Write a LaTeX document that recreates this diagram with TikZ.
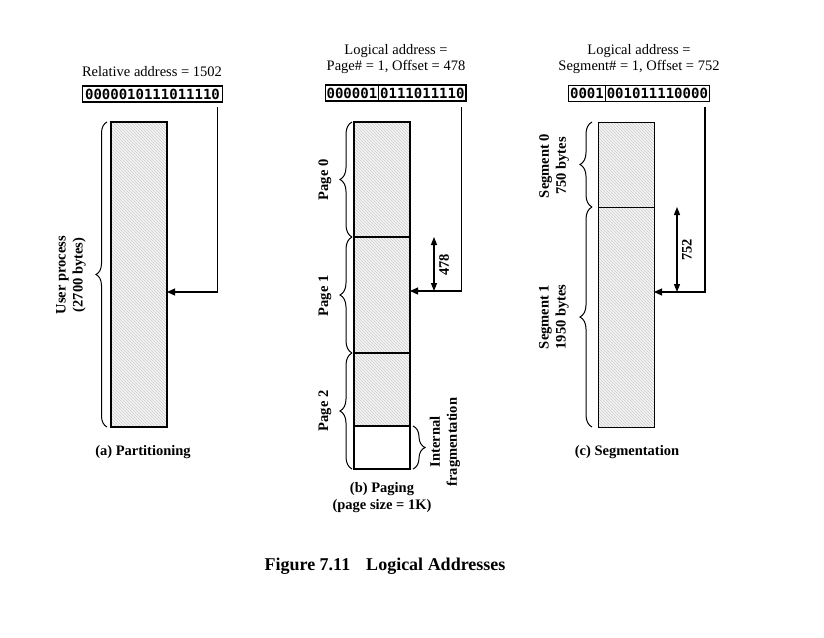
\documentclass[tikz,border=0pt]{standalone}
\usepackage{fontspec}
\setmainfont{Liberation Serif}
\newfontfamily\bitfont{DejaVu Sans Mono}
\usetikzlibrary{arrows.meta,patterns,decorations.pathreplacing}
\begin{document}
\begin{tikzpicture}[x=1pt,y=-1pt,
  font=\fontsize{14.5}{17}\selectfont,
  bits/.style={draw, line width=1.1pt, inner xsep=1.5pt, inner ysep=0pt, outer sep=0pt, minimum height=16pt,
    font=\bitfont\bfseries\fontsize{14}{16}\selectfont},
  blk/.style={draw, minimum width=56pt, anchor=north west, inner sep=0pt, outer sep=0pt},
  hatch/.style={blk, preaction={fill=gray!8}, pattern=north west lines, pattern color=gray!40},
  arr/.style={line width=1.1pt, -{Triangle[length=8pt,width=7pt]}},
  dim/.style={line width=1.1pt, {Triangle[length=8pt,width=6pt]}-{Triangle[length=8pt,width=6pt]}},
  brc/.style={decorate, decoration={brace, amplitude=11pt}, line width=1pt},
  lbl/.style={font=\fontsize{14.5}{17}\selectfont\bfseries, rotate=90, align=center},
  captxt/.style={font=\fontsize{14.5}{17}\selectfont\bfseries, align=center},
  ttl/.style={align=center, font=\fontsize{14.5}{16}\selectfont},
]
\useasboundingbox[fill=white] (0,0) rectangle (824,637);

% ---------- (a) Partitioning ----------
\node[ttl] (ta) at (152,72) {Relative address = 1502};
\node[bits, inner xsep=3pt] (ba) at (152.5,94) {0000010111011110};
\node[hatch, line width=1.2pt, minimum height=305pt] (proc) at (111,122) {};
\draw[brc] ([xshift=-4pt]proc.south west) -- ([xshift=-4pt]proc.north west);
\node[lbl] (lproc) at (71,275) {User process\\(2700 bytes)};
\coordinate (aT) at (217.5,107);
\coordinate (aH) at (217.5,292);
\draw[arr] (aT) -- (aH) -- (aH -| proc.east);
\node[captxt] (capa) at (143,452) {(a) Partitioning};

% ---------- (b) Paging ----------
\node[ttl] (tb) at (396,59) {Logical address =\\Page\# = 1, Offset = 478};
\node[bits, anchor=east] (bbl) at (378.7,93) {000001};
\node[bits, anchor=west] (bbr) at (bbl.east) {0111011110};
\node[hatch, line width=1.6pt, minimum height=115pt] (p0) at (354,122) {};
\node[hatch, line width=1.6pt, minimum height=116pt] (p1) at (354,237) {};
\node[hatch, line width=1.6pt, minimum height=73pt] (p2) at (354,353) {};
\node[blk, line width=1.6pt, minimum height=43pt] (frag) at (354,426) {};
\draw[brc, decoration={amplitude=12pt}] ([xshift=-2pt]p0.south west) -- ([xshift=-2pt]p0.north west);
\draw[brc, decoration={amplitude=12pt}] ([xshift=-2pt]p1.south west) -- ([xshift=-2pt]p1.north west);
\draw[brc, decoration={amplitude=12pt}] ([xshift=-2pt]frag.south west) -- ([xshift=-2pt]p2.north west);
\draw[brc, decoration={amplitude=12pt}] ([xshift=3pt]frag.north east) -- ([xshift=3pt]frag.south east);
\node[lbl] (lp0) at (325,180) {Page 0};
\node[lbl] (lp1) at (325,296) {Page 1};
\node[lbl] (lp2) at (325,411) {Page 2};
\node[lbl] (lfrag) at (445,442) {Internal\\fragmentation};
\coordinate (bT) at (461.5,107);
\coordinate (bH) at (461.5,291);
\draw[arr] (bT) -- (bH) -- (bH -| p1.east);
\coordinate (bD) at (434,291);
\draw[dim] (bD |- p1.north) -- (bD);
\node[lbl] (l478) at (444,265) {478};
\node[captxt] (capb) at (382,498) {(b) Paging\\(page size = 1K)};

% ---------- (c) Segmentation ----------
\node[ttl] (tc) at (639,59) {Logical address =\\Segment\# = 1, Offset = 752};
\node[bits, anchor=east] (bcl) at (605.3,93.5) {0001};
\node[bits, anchor=west] (bcr) at (bcl.east) {001011110000};
\node[hatch, line width=0.9pt, minimum height=85pt] (s0) at (598,122) {};
\node[hatch, line width=0.9pt, minimum height=220pt] (s1) at (598,207) {};
\draw[brc, decoration={amplitude=12pt}] ([xshift=-6pt]s0.south west) -- ([xshift=-6pt]s0.north west);
\draw[brc, decoration={amplitude=12pt}] ([xshift=-6pt]s1.south west) -- ([xshift=-6pt]s1.north west);
\node[lbl] (ls0) at (554,166) {Segment 0\\750 bytes};
\node[lbl] (ls1) at (554,317) {Segment 1\\1950 bytes};
\coordinate (cT) at (705,107);
\coordinate (cH) at (705,292);
\draw[arr] (cT) -- (cH) -- (cH -| s1.east);
\coordinate (cD) at (677,292);
\draw[dim] (cD |- s1.north) -- (cD);
\node[lbl] (l752) at (687,250) {752};
\node[captxt] (capc) at (627,452) {(c) Segmentation};

% ---------- caption ----------
\node[font=\fontsize{18}{20}\selectfont\bfseries] (fig) at (385,566) {Figure 7.11\hspace{16pt}Logical Addresses};
\end{tikzpicture}
\end{document}
